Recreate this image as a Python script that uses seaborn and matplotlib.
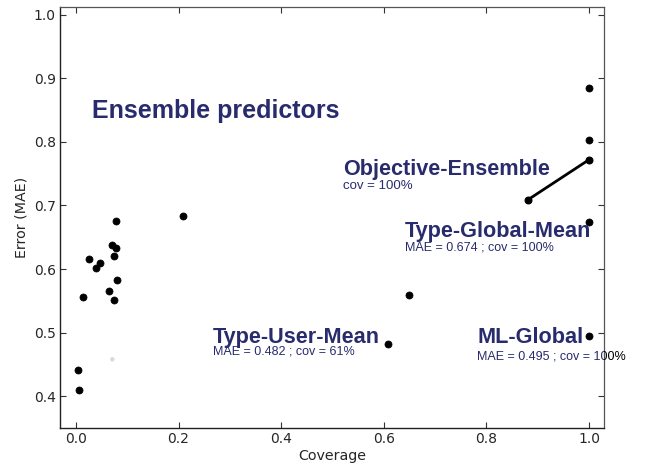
import matplotlib
matplotlib.use("Agg")
import matplotlib.pyplot as plt
from matplotlib.patches import Rectangle
import seaborn as sns
import pandas as pd

# Individual predictors: coverage vs. error
coverage = [0.004, 0.007, 0.014, 0.026, 0.040, 0.047, 0.065, 0.070, 0.074, 0.075,
            0.078, 0.081, 0.079, 0.209, 0.649, 0.609, 1.0, 1.0, 1.0, 1.0]
mae = [0.441, 0.409, 0.556, 0.615, 0.601, 0.609, 0.566, 0.638, 0.620, 0.551,
       0.633, 0.582, 0.676, 0.684, 0.559, 0.482, 0.495, 0.674, 0.884, 0.803]

# Faded predictor
faded_cov = [0.071]
faded_mae = [0.458]

# Objective-Ensemble trajectory
ens_cov = [0.881, 1.0]
ens_mae = [0.709, 0.772]

# Annotated predictors
user_mean = (0.609, 0.482)
ml_global = (1.0, 0.495)
global_mean = (1.0, 0.674)

sns.set_theme(style="white")
plt.rcParams["font.family"] = ["DejaVu Sans"]

fig = plt.figure(figsize=(6.47, 4.70), dpi=100)
ax = fig.add_axes([0.0927, 0.0894, 0.8408, 0.8956])

df = pd.DataFrame({"Coverage": coverage, "Error (MAE)": mae})
sns.scatterplot(data=df, x="Coverage", y="Error (MAE)", ax=ax, color="black",
                s=26, edgecolor="black", linewidth=0.5, zorder=3)
sns.scatterplot(x=faded_cov, y=faded_mae, ax=ax, color="#d5dbd6", s=10,
                edgecolor="none", zorder=2)
ens = pd.DataFrame({"cov": ens_cov, "mae": ens_mae})
sns.lineplot(data=ens, x="cov", y="mae", ax=ax, color="black", linewidth=2.0,
             marker="o", markersize=5, markeredgecolor="black", zorder=3)

ax.set_xlim(-0.031, 1.029)
ax.set_ylim(0.35, 1.012)
ax.set_xticks([0.0, 0.2, 0.4, 0.6, 0.8, 1.0])
ax.set_yticks([0.4, 0.5, 0.6, 0.7, 0.8, 0.9, 1.0])
ax.set_xlabel("Coverage", fontsize=10.3, labelpad=2)
ax.set_ylabel("Error (MAE)", fontsize=10.3, labelpad=4)
ax.tick_params(axis="both", which="both", direction="in", length=4, width=0.8,
               top=True, right=True, bottom=True, left=True, labelsize=10,
               color="#333333", pad=3)
for side in ["left", "bottom"]:
    ax.spines[side].set_color("#222222")
    ax.spines[side].set_linewidth(1.0)
for side in ["top", "right"]:
    ax.spines[side].set_color("#555555")
    ax.spines[side].set_linewidth(0.9)

navy = "#282b6c"
big = dict(fontfamily="Liberation Sans", fontweight="bold", color=navy)
small = dict(fontfamily="Liberation Sans", color=navy)

ax.text(0.031, 0.837, "Ensemble predictors", fontsize=18, va="baseline", ha="left", **big)

ax.text(0.520, 0.748, "Objective-Ensemble", fontsize=15.6, va="baseline", ha="left", **big)
ax.text(0.520, 0.731, "cov = 100%", fontsize=9.5, va="center", ha="left", **small)

ax.text(0.641, 0.650, "Type-Global-Mean", fontsize=15.6, va="baseline", ha="left", **big)
ax.text(0.641, 0.634, f"MAE = {global_mean[1]:.3f} ; cov = {global_mean[0]:.0%}",
        fontsize=9, va="center", ha="left", **small)

ax.text(0.267, 0.483, "Type-User-Mean", fontsize=15.6, va="baseline", ha="left", **big)
ax.text(0.267, 0.471, f"MAE = {user_mean[1]:.3f} ; cov = {user_mean[0]:.0%}",
        fontsize=9, va="center", ha="left", **small)

ax.text(0.782, 0.483, "ML-Global", fontsize=15.6, va="baseline", ha="left", **big)
ml_note = f"MAE = {ml_global[1]:.3f} ; cov = {ml_global[0]:.0%}"
ax.text(0.782, 0.462, ml_note, fontsize=9, va="center", ha="left", clip_on=True, **small)
# the part of the note running past the frame is printed in black
outside = Rectangle((ax.get_position().x1, 0), 1, 1, transform=fig.transFigure,
                    facecolor="none", edgecolor="none")
tail = ax.text(0.782, 0.462, ml_note, fontsize=9, va="center", ha="left",
               fontfamily="Liberation Sans", color="black")
tail.set_clip_path(outside)
tail.set_clip_on(True)

fig.savefig("out.png", dpi=100)
